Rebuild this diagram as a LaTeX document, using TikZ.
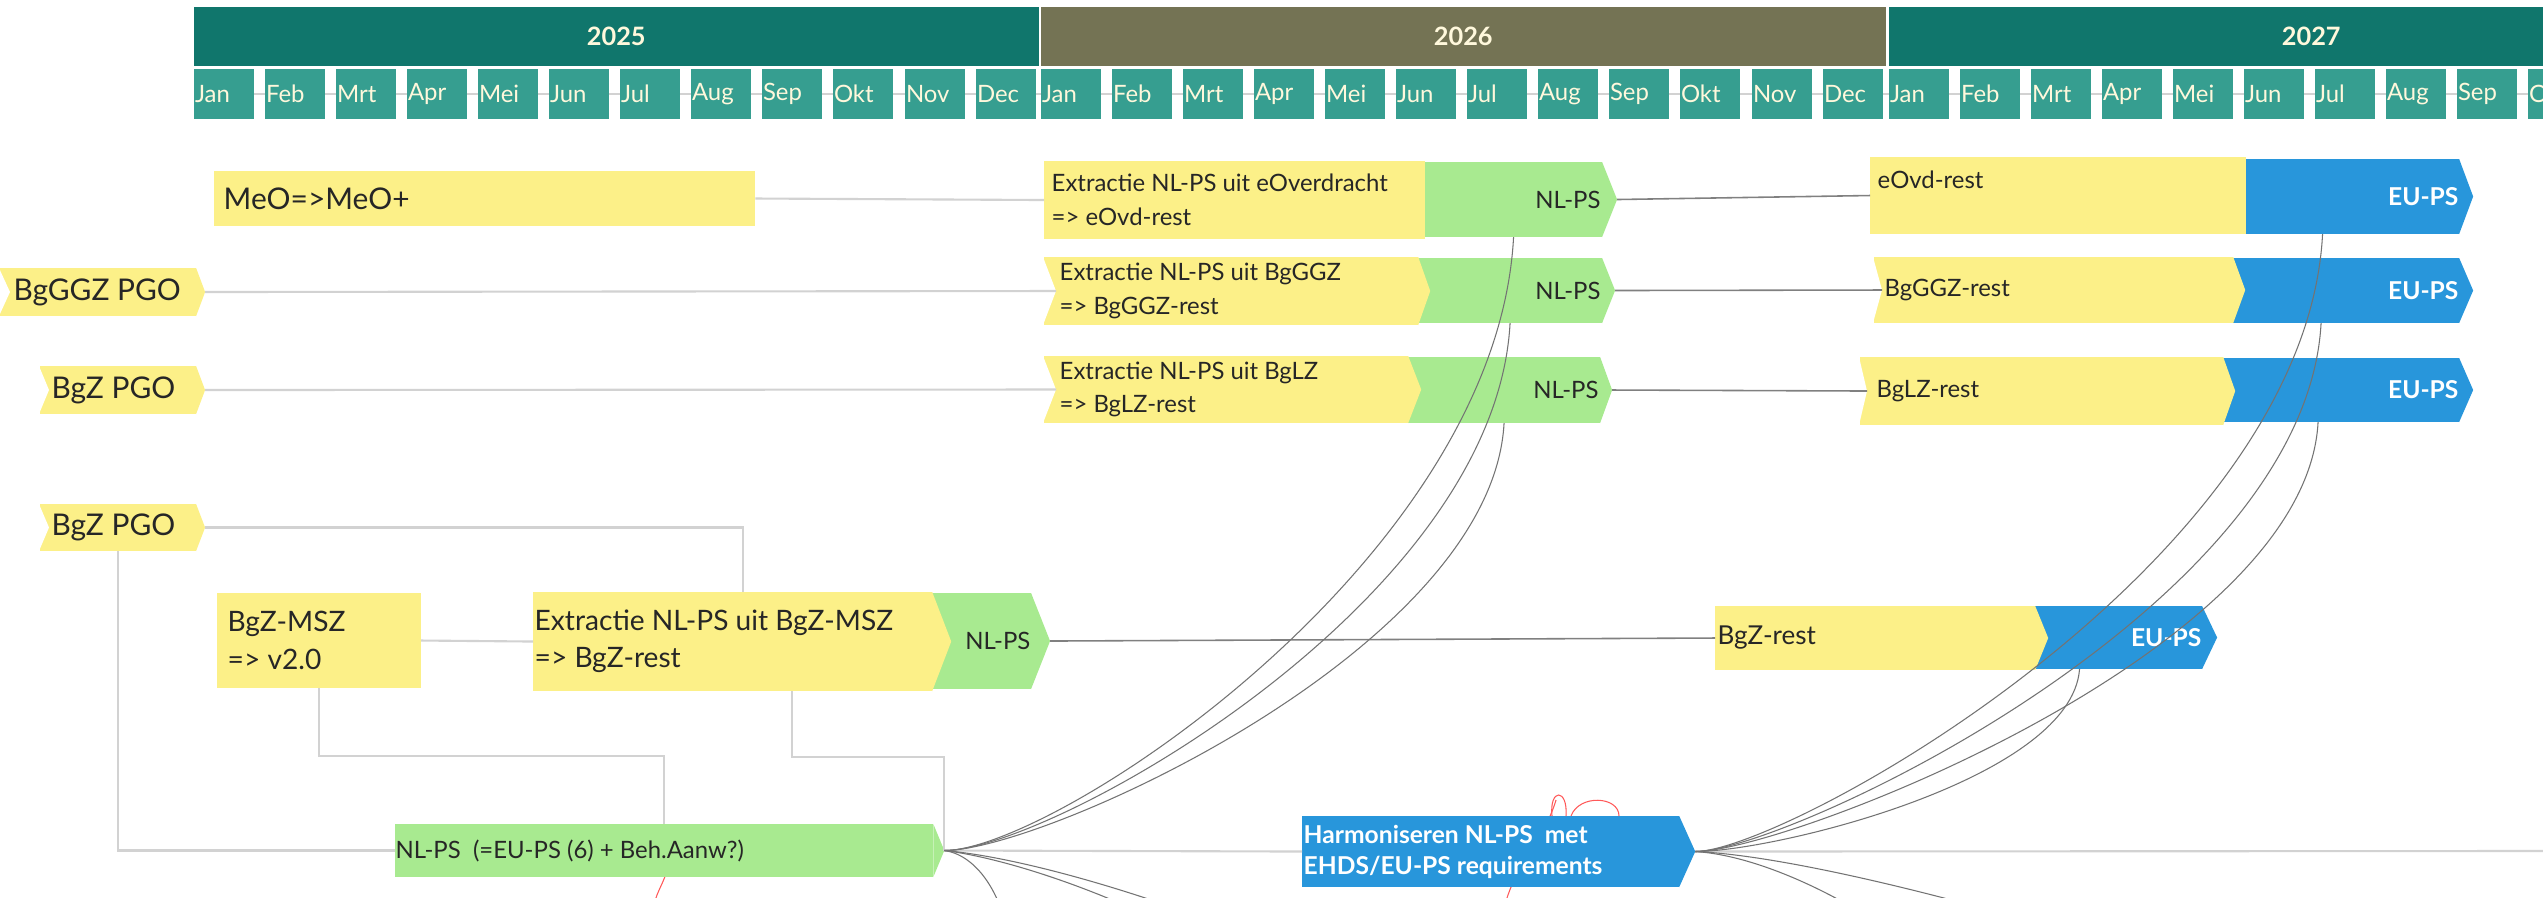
\documentclass[tikz,border=0pt]{standalone}
\usepackage{fontspec}
\setmainfont{Lato}
\usetikzlibrary{positioning,calc,backgrounds}

\definecolor{geel}{HTML}{FCF088}
\definecolor{groen}{HTML}{A8EA90}
\definecolor{blauw}{HTML}{2896DB}
\definecolor{jaarA}{HTML}{10766C}
\definecolor{jaarB}{HTML}{747354}
\definecolor{maandkl}{HTML}{369E90}
\definecolor{room}{HTML}{FFF8DC}
\definecolor{lijngrijs}{HTML}{D2D2D2}

\newcommand{\fklein}{\fontsize{6.8}{9.6}\selectfont}
\newcommand{\fmidden}{\fontsize{8}{10.6}\selectfont}
\newcommand{\fgroot}{\fontsize{8.5}{10}\selectfont}
\newcommand{\fvet}{\fontsize{7}{8.8}\selectfont\bfseries}

% punt rechts / inkeping links van een vak
\newcommand{\punt}[3]{\fill[#3] (#1.north east) -- ($(#1.east)+(#2,0)$) -- (#1.south east) -- cycle;
  \coordinate (#1-tip) at ($(#1.east)+(#2,0)$);}
\newcommand{\inkeping}[2]{\fill[white] ($(#1.north west)+(-1,0)$) -- ($(#1.west)+(#2,0)$) -- ($(#1.south west)+(-1,0)$) -- cycle;
  \coordinate (#1-in) at ($(#1.west)+(#2,0)$);}

\tikzset{
  vak/.style={anchor=north west, inner sep=0pt, outer sep=0pt},
  geelvak/.style={vak, fill=geel},
  groenvak/.style={vak, fill=groen},
  blauwvak/.style={vak, fill=blauw},
  tekst/.style={inner sep=0pt, align=left, text=black!85, font=\fklein},
  witvet/.style={tekst, text=white, font=\fvet},
  jaarbalk/.style={vak, minimum width=8.44cm, minimum height=.59cm, text=room, font=\fontsize{7.2}{8}\selectfont\bfseries},
  maand/.style={vak, minimum width=.6cm, minimum height=.5cm, fill=maandkl, text=room, font=\fklein, text width=.58cm, inner xsep=.01cm, align=left},
  lijn/.style={draw=lijngrijs, line width=.6pt},
  donker/.style={draw=black!50, line width=.45pt},
  boog/.style={draw=black!55, line width=.3pt},
  rood/.style={draw=red!65, line width=.3pt},
}

\begin{document}
\begin{tikzpicture}[x=0.01cm, y=-0.01cm]
  \clip (0,0) rectangle (2543,897);

  % tijdbalk
  \foreach \jaar/\xs/\kleur [count=\j] in {2025/194/jaarA, 2026/1041/jaarB, 2027/1889/jaarA}{
    \node[jaarbalk, fill=\kleur] (jaar\j) at (\xs,7) {\jaar};
    \foreach \maand [count=\m from 0] in {Jan,Feb,Mrt,Apr,Mei,Jun,Jul,Aug,Sep,Okt,Nov,Dec}{
      \pgfmathtruncatemacro\mx{\xs+\m*71.1}
      \ifnum\mx<2543
        \node[maand] (m\j-\m) at (\mx,69) {\maand};
      \fi
    }
  }

  % rij 1
  \node[geelvak, minimum width=5.41cm, minimum height=.55cm] (meo) at (214,171) {};
  \node[tekst, font=\fgroot, right=.09cm of meo.west] (meo-t) {MeO=>MeO+};
  \node[groenvak, minimum width=1.77cm, minimum height=.75cm] (nl1) at (1425,162) {};
  \punt{nl1}{15}{groen}
  \node[geelvak, minimum width=3.81cm, minimum height=.78cm] (ex1) at (1044,161) {};
  \node[tekst, right=.07cm of ex1.west] (ex1-t) {Extractie NL-PS uit eOverdracht\\=> eOvd-rest};
  \node[tekst, left=.01cm of nl1.east] (nl1-t) {NL-PS};
  \node[blauwvak, minimum width=2.13cm, minimum height=.75cm] (eu1) at (2246,159) {};
  \punt{eu1}{14}{blauw}
  \node[geelvak, minimum width=3.76cm, minimum height=.77cm] (eo1) at (1870,157) {};
  \node[tekst, right=.07cm of eo1.west, yshift=.155cm] (eo1-t) {eOvd-rest};
  \node[witvet, left=0cm of eu1.east] (eu1-t) {EU-PS};

  % rij 2
  \node[geelvak, minimum width=1.96cm, minimum height=.48cm] (pgo1) at (0,268) {};
  \punt{pgo1}{9}{geel}
  \inkeping{pgo1}{10}
  \node[tekst, font=\fgroot, right=.13cm of pgo1.west] (pgo1-t) {BgGGZ PGO};
  \node[groenvak, minimum width=1.84cm, minimum height=.65cm] (nl2) at (1418,258) {};
  \punt{nl2}{13}{groen}
  \node[geelvak, minimum width=3.74cm, minimum height=.68cm] (ex2) at (1044,257) {};
  \punt{ex2}{12}{geel}
  \inkeping{ex2}{12}
  \node[tekst, right=.15cm of ex2.west] (ex2-t) {Extractie NL-PS uit BgGGZ\\=> BgGGZ-rest};
  \node[tekst, left=.01cm of nl2.east] (nl2-t) {NL-PS};
  \node[blauwvak, minimum width=2.26cm, minimum height=.65cm] (eu2) at (2233,258) {};
  \punt{eu2}{14}{blauw}
  \node[geelvak, minimum width=3.59cm, minimum height=.66cm] (eo2) at (1874,257) {};
  \punt{eo2}{12}{geel}
  \inkeping{eo2}{8}
  \node[tekst, right=.10cm of eo2.west] (eo2-t) {BgGGZ-rest};
  \node[witvet, left=0cm of eu2.east] (eu2-t) {EU-PS};

  % rij 3
  \node[geelvak, minimum width=1.56cm, minimum height=.48cm] (pgo2) at (40,366) {};
  \punt{pgo2}{9}{geel}
  \inkeping{pgo2}{9}
  \node[tekst, font=\fgroot, right=.11cm of pgo2.west] (pgo2-t) {BgZ PGO};
  \node[groenvak, minimum width=1.92cm, minimum height=.66cm] (nl3) at (1408,357) {};
  \punt{nl3}{12}{groen}
  \node[geelvak, minimum width=3.64cm, minimum height=.67cm] (ex3) at (1044,356) {};
  \punt{ex3}{13}{geel}
  \inkeping{ex3}{12}
  \node[tekst, right=.15cm of ex3.west] (ex3-t) {Extractie NL-PS uit BgLZ\\=> BgLZ-rest};
  \node[tekst, left=.01cm of nl3.east] (nl3-t) {NL-PS};
  \node[blauwvak, minimum width=2.36cm, minimum height=.64cm] (eu3) at (2223,358) {};
  \punt{eu3}{14}{blauw}
  \node[geelvak, minimum width=3.63cm, minimum height=.68cm] (eo3) at (1860,357) {};
  \punt{eo3}{12}{geel}
  \inkeping{eo3}{7}
  \node[tekst, right=.16cm of eo3.west] (eo3-t) {BgLZ-rest};
  \node[witvet, left=0cm of eu3.east] (eu3-t) {EU-PS};

  % rij 4
  \node[geelvak, minimum width=1.56cm, minimum height=.47cm] (pgo3) at (40,504) {};
  \punt{pgo3}{9}{geel}
  \inkeping{pgo3}{9}
  \node[tekst, font=\fgroot, right=.11cm of pgo3.west] (pgo3-t) {BgZ PGO};
  \node[geelvak, minimum width=2.04cm, minimum height=.95cm] (msz) at (217,593) {};
  \node[tekst, font=\fmidden, right=.10cm of msz.west] (msz-t) {BgZ-MSZ\\=> v2.0};
  \node[groenvak, minimum width=.99cm, minimum height=.96cm] (nl4) at (932,593) {};
  \punt{nl4}{19}{groen}
  \node[geelvak, minimum width=3.99cm, minimum height=.99cm] (ex4) at (533,592) {};
  \punt{ex4}{19}{geel}
  \node[tekst, font=\fmidden, right=.01cm of ex4.west] (ex4-t) {Extractie NL-PS uit BgZ-MSZ\\=> BgZ-rest};
  \node[tekst, left=0cm of nl4.east] (nl4-t) {NL-PS};
  \node[blauwvak, minimum width=1.67cm, minimum height=.63cm] (eu4) at (2035,606) {};
  \punt{eu4}{15}{blauw}
  \node[geelvak, minimum width=3.20cm, minimum height=.64cm] (rest4) at (1715,606) {};
  \punt{rest4}{13}{geel}
  \node[tekst, font=\fontsize{7.4}{9}\selectfont, right=.02cm of rest4.west] (rest4-t) {BgZ-rest};
  \node[witvet, left=0cm of eu4.east] (eu4-t) {EU-PS};

  % rij 5
  \coordinate (r4a) at (668,865);
  \coordinate (r4b) at (654,905);
  \draw[rood] (r4a) .. controls +(-2,15) and +(3,-15) .. (r4b);
  \coordinate (r3a) at (1556,800);
  \coordinate (r3b) at (1505,905);
  \draw[rood] (r3a) .. controls +(-12,40) and +(10,-40) .. (r3b);
  \node[groenvak, minimum width=5.38cm, minimum height=.53cm] (nlps) at (395,824) {};
  \punt{nlps}{11}{groen}
  \node[tekst, right=0cm of nlps.west] (nlps-t) {NL-PS\ \ (=EU-PS (6) + Beh.Aanw?)};
  \node[blauwvak, minimum width=3.77cm, minimum height=.71cm] (harm) at (1302,816) {};
  \punt{harm}{16}{blauw}
  \node[witvet, right=.01cm of harm.west] (harm-t) {Harmoniseren NL-PS\ \ met\\EHDS/EU-PS requirements};
  \coordinate (r1a) at (1552,816);
  \coordinate (r1b) at (1566,816);
  \draw[rood] (r1a) .. controls +(-3,-28) and +(2,-28) .. (r1b);
  \coordinate (r2a) at (1571,816);
  \coordinate (r2b) at (1619,816);
  \draw[rood] (r2a) .. controls +(8,-22) and +(0,-20) .. (r2b);

  % verbindingen
  \draw[lijn] (meo.east) -- (ex1.west);
  \draw[donker] (nl1-tip) -- (eo1.west);
  \draw[lijn] (pgo1-tip) -- (ex2-in);
  \draw[donker] (nl2-tip) -- (eo2-in);
  \draw[lijn] (pgo2-tip) -- (ex3-in);
  \draw[donker] (nl3-tip) -- (eo3-in);
  \draw[lijn] (pgo3-tip) -| ([xshift=.1cm]ex4.north);
  \draw[lijn] (pgo3.south) |- (nlps.west);
  \draw[lijn] (msz.east) -- (ex4.west);
  \draw[lijn] (msz.south) -- ++(0,68) -| (nlps.north);
  \draw[lijn] ([xshift=.59cm]ex4.south) -- ++(0,66) -| (nlps-tip);
  \draw[donker] (nl4-tip) -- (rest4.west);
  \draw[lijn] (nlps-tip) -- (harm.west);
  \coordinate (rand) at (2543,851);
  \draw[lijn] (harm-tip) -- (rand);

  % bogen
  \draw[boog] (nlps-tip) .. controls +(109,0) and +(-17,323) .. (nl1.south);
  \draw[boog] (nlps-tip) .. controls +(105,0) and +(-15,280) .. (nl2.south);
  \draw[boog] (nlps-tip) .. controls +(100,0) and +(-12,225) .. (nl3.south);
  \draw[boog] (harm-tip) .. controls +(90,0) and +(-17,330) .. ([xshift=-.30cm]eu1.south);
  \draw[boog] (harm-tip) .. controls +(90,0) and +(-15,285) .. ([xshift=-.25cm]eu2.south);
  \draw[boog] (harm-tip) .. controls +(90,0) and +(-12,230) .. ([xshift=-.23cm]eu3.south);
  \draw[boog] (harm-tip) .. controls +(80,0) and +(-8,110) .. ([xshift=-.39cm]eu4.south);
  \coordinate (uit1) at (1012,960);
  \coordinate (uit2) at (1210,950);
  \coordinate (uit3) at (1245,935);
  \coordinate (uit4) at (1950,980);
  \coordinate (uit5) at (2150,960);
  \draw[boog] (nlps-tip) .. controls +(35,5) and +(-5,-60) .. (uit1);
  \draw[boog] (nlps-tip) .. controls +(80,10) and +(-60,-40) .. (uit2);
  \draw[boog] (nlps-tip) .. controls +(90,8) and +(-70,-30) .. (uit3);
  \draw[boog] (harm-tip) .. controls +(80,5) and +(-60,-60) .. (uit4);
  \draw[boog] (harm-tip) .. controls +(120,5) and +(-80,-30) .. (uit5);

  % achtergrond
  \begin{scope}[on background layer]
    \fill[white] (0,0) rectangle (2543,897);
    \draw[lijngrijs, line width=.5pt] (m1-0.center) -- (m3-9.center);
  \end{scope}
\end{tikzpicture}
\end{document}
